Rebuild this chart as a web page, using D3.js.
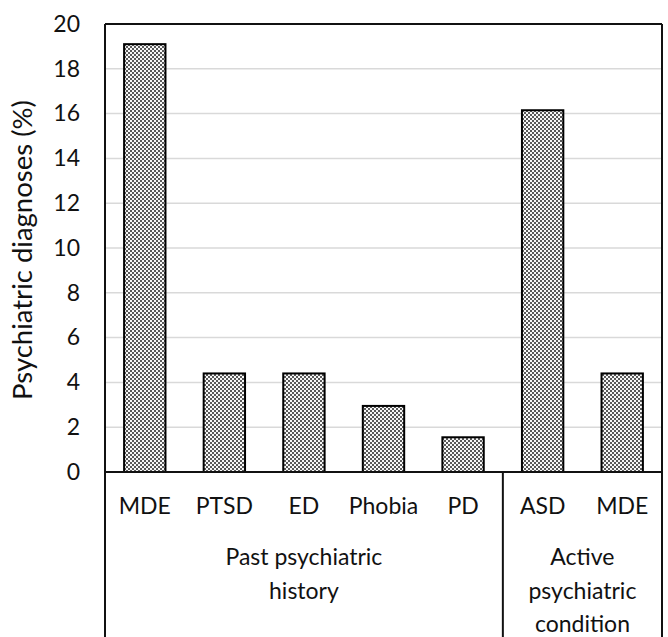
<!DOCTYPE html>
<html><head><meta charset="utf-8">
<script src="https://cdn.jsdelivr.net/npm/d3@7"></script>
<style>body{margin:0;background:#fff}svg{display:block}text{font-family:Lato,"Open Sans",sans-serif;fill:#111}</style>
</head><body>
<script>
const categories = ["MDE","PTSD","ED","Phobia","PD","ASD","MDE "];
const values = [19.1,4.4,4.4,2.95,1.55,16.15,4.4];
const groups = [
  {label:["Past psychiatric","history"], start:0, end:5},
  {label:["Active","psychiatric","condition"], start:5, end:7}
];
const yTicks = [0,2,4,6,8,10,12,14,16,18,20];
const yTitle = "Psychiatric diagnoses (%)";

const W=668,H=637;
const m={l:105,r:6,t:24,b:165};
const x0=m.l, x1=W-m.r, y0=m.t, y1=H-m.b;
const FS="23px";
const svg=d3.select("body").append("svg").attr("width",W).attr("height",H);
const defs=svg.append("defs");
const pat=defs.append("pattern").attr("id","chk").attr("width",4).attr("height",4).attr("patternUnits","userSpaceOnUse");
pat.append("rect").attr("width",4).attr("height",4).attr("fill","#f8f8f8");
pat.append("rect").attr("x",0).attr("y",0).attr("width",2).attr("height",2).attr("fill","#5a5a5a");
pat.append("rect").attr("x",2).attr("y",2).attr("width",2).attr("height",2).attr("fill","#5a5a5a");

const x=d3.scaleBand().domain(categories).range([x0,x1]).paddingInner(0.48).paddingOuter(0.24);
const y=d3.scaleLinear().domain([0,20]).range([y1,y0]);

svg.append("g").selectAll("line").data(yTicks.filter(d=>d>0&&d<20)).join("line")
  .attr("x1",x0).attr("x2",x1).attr("y1",d=>y(d)).attr("y2",d=>y(d))
  .attr("stroke","#d9d9d9").attr("stroke-width",1.5);

const ya=svg.append("g").attr("transform",`translate(${x0},0)`)
  .call(d3.axisLeft(y).tickValues(yTicks).tickSize(0).tickPadding(25));
ya.select(".domain").remove();
ya.selectAll("text").style("font-size",FS).attr("fill","#111");

svg.append("g").selectAll("rect").data(values).join("rect")
  .attr("x",(d,i)=>x(categories[i])).attr("width",x.bandwidth())
  .attr("y",d=>y(d)).attr("height",d=>y1-y(d))
  .attr("fill","url(#chk)").attr("stroke","#000").attr("stroke-width",2);

const fr=svg.append("g").attr("stroke","#111").attr("stroke-width",2).attr("fill","none");
fr.append("line").attr("x1",x0).attr("x2",x1).attr("y1",y0).attr("y2",y0);
fr.append("line").attr("x1",x0).attr("x2",x0).attr("y1",y0).attr("y2",H);
fr.append("line").attr("x1",x1).attr("x2",x1).attr("y1",y0).attr("y2",H);
fr.append("line").attr("x1",x0).attr("x2",x1).attr("y1",y1).attr("y2",y1);
const step=x.step();
groups.slice(1).forEach(g=>{
  const xx=x0+step*g.start;
  fr.append("line").attr("x1",xx).attr("x2",xx).attr("y1",y1).attr("y2",H);
});

const xa=svg.append("g").attr("transform",`translate(0,${y1})`)
  .call(d3.axisBottom(x).tickSize(0).tickPadding(26));
xa.select(".domain").remove();
xa.selectAll("text").style("font-size",FS).attr("fill","#111");

groups.forEach(g=>{
  const cx=x0+step*(g.start+g.end)/2;
  const t=svg.append("text").attr("text-anchor","middle").style("font-size",FS);
  g.label.forEach((s,i)=>t.append("tspan").attr("x",cx).attr("y",565+i*33.5).text(s));
});

svg.append("text").attr("transform",`translate(32,${(y0+y1)/2+2}) rotate(-90)`)
  .attr("text-anchor","middle").style("font-size","27.5px").text(yTitle);
</script>
</body></html>
